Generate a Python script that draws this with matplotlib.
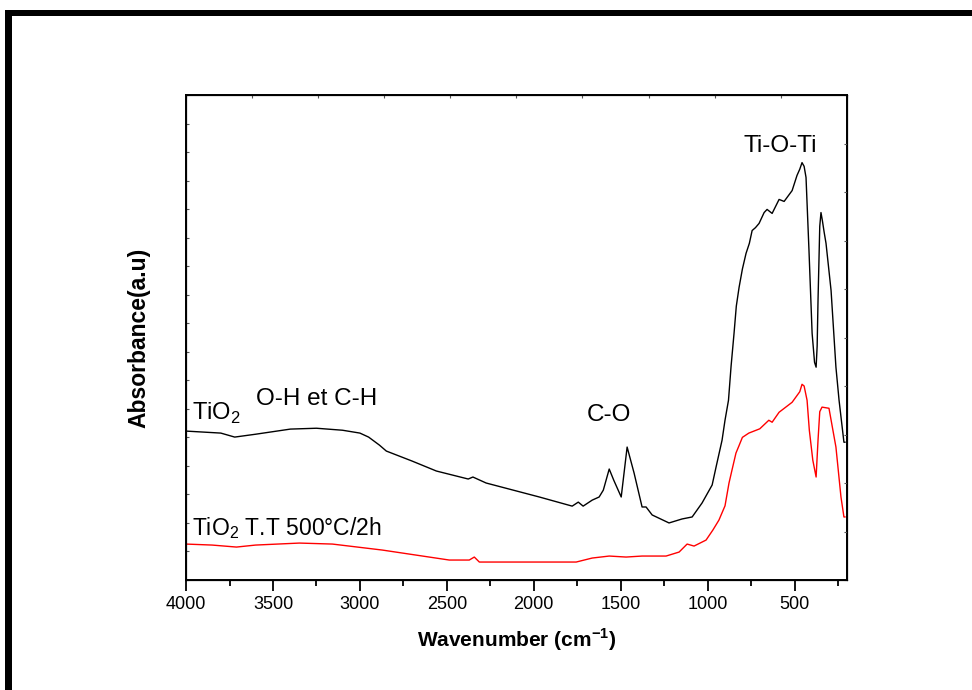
import matplotlib
matplotlib.use("Agg")
import matplotlib.pyplot as plt
from matplotlib.patches import Rectangle

# TiO2 (brut) - black curve
wn_raw = [4000, 3800, 3720, 3600, 3400, 3250, 3100, 3000, 2950, 2888, 2848,
          2700, 2560, 2377, 2350, 2274, 1968, 1779, 1744, 1716, 1664, 1624,
          1600, 1566, 1540, 1497, 1463, 1423, 1377, 1354, 1319, 1222, 1147,
          1089, 1032, 974, 950, 917, 900, 880, 865, 848, 835, 819, 800, 779,
          760, 744, 725, 704, 675, 658, 629, 589, 560, 514, 486, 470, 457,
          445, 434, 417, 399, 385, 376, 370, 365, 355, 348, 340, 330, 319,
          290, 262, 244, 216, 210]
abs_raw = [0.522, 0.515, 0.501, 0.511, 0.529, 0.532, 0.525, 0.515, 0.501, 0.473, 0.452,
           0.417, 0.382, 0.354, 0.361, 0.340, 0.291, 0.259, 0.273, 0.259, 0.280, 0.291,
           0.315, 0.389, 0.350, 0.291, 0.466, 0.375, 0.256, 0.256, 0.228, 0.200, 0.214,
           0.221, 0.270, 0.333, 0.400, 0.490, 0.560, 0.630, 0.750, 0.865, 0.960, 1.026,
           1.090, 1.145, 1.180, 1.225, 1.235, 1.250, 1.288, 1.299, 1.285, 1.334, 1.327,
           1.365, 1.418, 1.440, 1.463, 1.450, 1.411, 1.155, 0.865, 0.763, 0.746, 0.820,
           0.980, 1.240, 1.288, 1.260, 1.220, 1.180, 1.015, 0.746, 0.630, 0.483, 0.483]

# TiO2 T.T 500°C/2h - red curve
wn_tt = [4000, 3850, 3710, 3600, 3348, 3158, 2871, 2486, 2371, 2342, 2313,
         1756, 1664, 1566, 1469, 1377, 1239, 1164, 1118, 1078, 1009, 970,
         935, 900, 877, 860, 837, 820, 800, 763, 700, 648, 629, 589, 514,
         470, 457, 445, 428, 415, 395, 376, 365, 355, 342, 302, 262, 233,
         216, 210]
abs_tt = [0.126, 0.1225, 0.1155, 0.1225, 0.1295, 0.126, 0.105, 0.070, 0.070, 0.0805, 0.063,
          0.063, 0.077, 0.084, 0.0805, 0.084, 0.084, 0.098, 0.126, 0.119, 0.140, 0.175,
          0.210, 0.260, 0.340, 0.385, 0.445, 0.470, 0.500, 0.515, 0.530, 0.560, 0.553,
          0.588, 0.623, 0.660, 0.686, 0.680, 0.630, 0.525, 0.420, 0.361, 0.490, 0.590,
          0.606, 0.602, 0.466, 0.291, 0.221, 0.221]

x_ticks = [4000, 3500, 3000, 2500, 2000, 1500, 1000, 500]

plt.rcParams['font.family'] = ['Liberation Sans', 'DejaVu Sans']

fig = plt.figure(figsize=(9.72, 6.9), dpi=100)

# cadre noir (haut et gauche)
fig.patches.append(Rectangle((0.005, 0.977), 0.995, 0.008, transform=fig.transFigure,
                             facecolor='black', edgecolor='none'))
fig.patches.append(Rectangle((0.005, 0.0), 0.0075, 0.985, transform=fig.transFigure,
                             facecolor='black', edgecolor='none'))

ax = fig.add_axes([0.1914, 0.1594, 0.6797, 0.7029])
ax.plot(wn_raw, abs_raw, color='black', linewidth=1.0)
ax.plot(wn_tt, abs_tt, color='red', linewidth=1.0)

ax.set_xlim(4000, 200)
ax.set_ylim(0, 1.7)
ax.set_xticks(x_ticks)
ax.set_xticks(range(3750, 200, -500), minor=True)
ax.set_yticks([i * 0.1 for i in range(18)])
ax.set_yticklabels([])
ax.tick_params(axis='x', which='major', direction='out', length=8, width=1.3, labelsize=13)
ax.tick_params(axis='x', which='minor', direction='out', length=4, width=1.3)
ax.tick_params(axis='y', which='major', direction='in', length=2, width=0.8, color='#555555')
for s in ax.spines.values():
    s.set_linewidth(1.4)

# petites graduations haut / droite
axt = ax.twiny()
axt.set_xlim(0, 10)
axt.set_xticks(range(11))
axt.tick_params(axis='x', direction='in', length=2, width=0.8, color='#555555', labeltop=False)
axr = ax.twinx()
axr.set_ylim(0, 10)
axr.set_yticks(range(11))
axr.tick_params(axis='y', direction='in', length=2, width=0.8, color='#555555', labelright=False)

ax.set_xlabel('Wavenumber (cm$^{\\mathregular{-1}}$)', fontsize=15, fontweight='bold', labelpad=10)
ax.set_ylabel('Absorbance(a.u)', fontsize=16.5, fontweight='bold', labelpad=22)

ax.text(3963, 0.56, 'TiO$_\\mathregular{2}$', fontsize=17)
ax.text(3250, 0.6125, 'O-H et C-H', fontsize=17.5, ha='center')
ax.text(1566, 0.556, 'C-O', fontsize=17.5, ha='center')
ax.text(583, 1.50, 'Ti-O-Ti', fontsize=17.5, ha='center')
ax.text(3963, 0.1575, 'TiO$_\\mathregular{2}$ T.T 500°C/2h', fontsize=16.5)

fig.savefig('out.png', dpi=100)
